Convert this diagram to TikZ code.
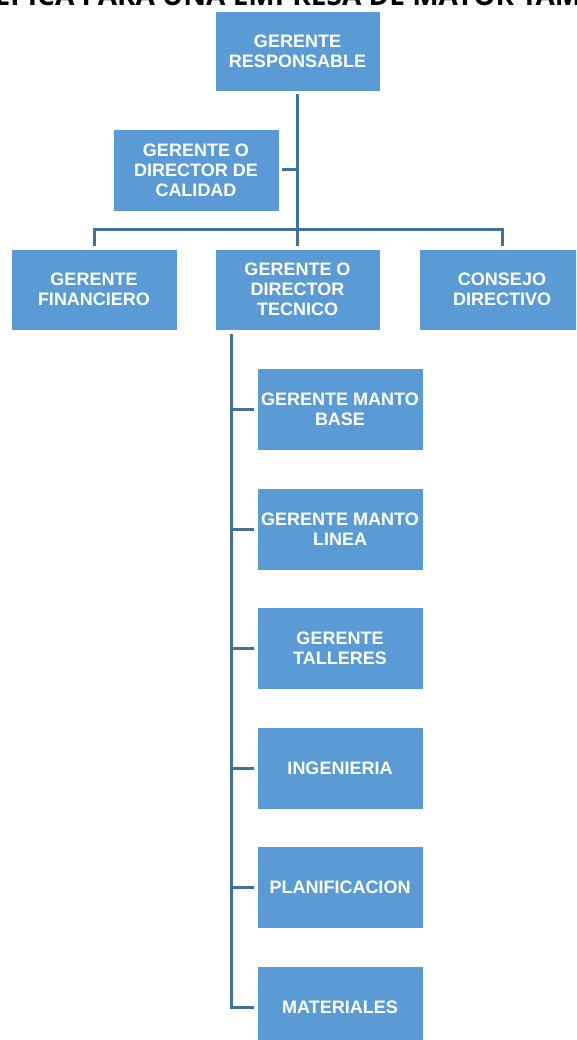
\documentclass[tikz,border=0pt]{standalone}
\usepackage{fontspec}
\setmainfont{Liberation Sans}
\newfontfamily\titlefont{Open Sans}
\definecolor{boxblue}{HTML}{5B9BD5}
\definecolor{lineblue}{HTML}{41719C}
\begin{document}
\begin{tikzpicture}[x=1pt,y=-1pt,
  box/.style={rectangle, fill=boxblue, draw=white, line width=0.8pt,
    minimum width=166pt, minimum height=82pt, inner sep=0pt,
    text=white, align=center,
    font=\fontsize{18}{20}\selectfont\bfseries},
  conn/.style={draw=lineblue, line width=3pt}]
\useasboundingbox (0,0) rectangle (576,1040);
\begin{scope}
\clip (0,0) rectangle (576,1040);
\node[anchor=base, inner sep=0pt, font=\titlefont\fontsize{28}{30}\selectfont\bfseries] (title) at (288,6) {EPICA PARA UNA EMPRESA DE MAYOR TAM};

\node[box, minimum width=165pt, minimum height=80pt] (resp) at (297.5,51) {GERENTE\\RESPONSABLE};
\node[box] (cal) at (196,170) {GERENTE O\\DIRECTOR DE\\CALIDAD};
\node[box, minimum height=81pt] (fin) at (94,289.5) {GERENTE\\FINANCIERO};
\node[box, minimum width=165pt, minimum height=81pt] (tec) at (297.5,289.5) {GERENTE O\\DIRECTOR\\TECNICO};
\node[box, minimum height=81pt] (cons) at (502,289.5) {CONSEJO\\DIRECTIVO};

\node[box] (c1) at (340,409) {GERENTE MANTO\\BASE};
\node[box] (c2) at (340,529) {GERENTE MANTO\\LINEA};
\node[box] (c3) at (340,648) {GERENTE\\TALLERES};
\node[box] (c4) at (340,768) {INGENIERIA};
\node[box] (c5) at (340,887) {PLANIFICACION};
\node[box] (c6) at (340,1007) {MATERIALES};

\coordinate (bus) at (297.5,230);
\coordinate (trunk) at (231,334);

\draw[conn] ([yshift=-3pt]resp.south) -- ([yshift=3pt]tec.north);
\draw[conn] ([yshift=3pt]fin.north) |- (bus) -| ([yshift=3pt]cons.north);
\draw[conn] ([xshift=3pt]cal.east) -- (cal.east -| resp.south);
\draw[conn] (trunk) |- ([xshift=-3pt]c6.west);
\foreach \c in {c1,c2,c3,c4,c5}
  \draw[conn] ([xshift=-3pt]\c.west) -- (\c.west -| trunk);
\end{scope}
\end{tikzpicture}
\end{document}
